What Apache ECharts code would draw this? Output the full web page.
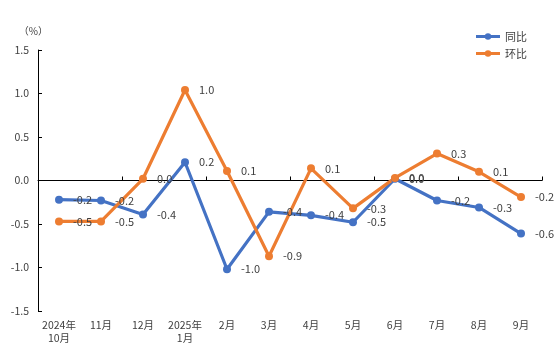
<!DOCTYPE html>
<html><head><meta charset="utf-8">
<script src="https://cdn.jsdelivr.net/npm/echarts@6/dist/echarts.min.js"></script>
<style>html,body{margin:0;padding:0;background:#fff}#c{width:554px;height:362px}</style>
</head><body><div id="c"></div>
<script>
const categories = ['2024年\n10月','11月','12月','2025年\n1月','2月','3月','4月','5月','6月','7月','8月','9月'];
const yoy = [-0.22, -0.23, -0.39, 0.21, -1.02, -0.36, -0.40, -0.48, 0.02, -0.23, -0.31, -0.61];
const mom = [-0.47, -0.47, 0.02, 1.04, 0.11, -0.87, 0.14, -0.32, 0.03, 0.31, 0.10, -0.19];
const seriesNames = ['同比', '环比'];
const yTicks = {min: -1.5, max: 1.5, interval: 0.5};

const font = '"Noto Sans CJK SC", "Microsoft YaHei", sans-serif';
const chart = echarts.init(document.getElementById('c'), null, {renderer: 'canvas'});
function mk(name, data, color) {
  return {
    name: name, type: 'line', data: data, xAxisIndex: 0,
    symbol: 'circle', symbolSize: 8,
    lineStyle: {color: color, width: 3.2},
    itemStyle: {color: color},
    label: {show: true, position: 'right', distance: 10, color: '#404040', fontSize: 11, fontFamily: font,
      formatter: p => p.value.toFixed(1)},
    animation: false
  };
}
chart.setOption({
  animation: false,
  grid: {left: 38, right: 12, top: 50, bottom: 51},
  legend: {
    data: seriesNames, orient: 'vertical', right: 22, top: 26, itemWidth: 24, itemHeight: 8, itemGap: 6,
    lineStyle: {width: 3},
    textStyle: {fontSize: 11, color: '#404040', fontFamily: font, padding: [0, 0, 0, 0]}
  },
  xAxis: [
    {type: 'category', data: categories, position: 'bottom', boundaryGap: true,
     axisLine: {onZero: true, lineStyle: {color: '#000', width: 1}},
     axisTick: {show: true, inside: true, length: 4, lineStyle: {color: '#000'}},
     axisLabel: {show: false}, splitLine: {show: false}},
    {type: 'category', data: categories, position: 'bottom', boundaryGap: true,
     axisLine: {show: false}, axisTick: {show: false},
     axisLabel: {show: true, interval: 0, margin: 8, color: '#404040', fontSize: 10.5, lineHeight: 13, fontFamily: font},
     splitLine: {show: false}}
  ],
  yAxis: {
    type: 'value', min: yTicks.min, max: yTicks.max, interval: yTicks.interval,
    name: '（%）', nameLocation: 'end', nameGap: 14,
    nameTextStyle: {color: '#404040', fontSize: 10, fontFamily: font, align: 'right', padding: [0, -10, 0, 0]},
    axisLine: {show: true, lineStyle: {color: '#000', width: 1}},
    axisTick: {show: true, inside: true, length: 4, lineStyle: {color: '#000'}},
    axisLabel: {color: '#404040', fontSize: 10.5, margin: 9, fontFamily: font, formatter: v => v.toFixed(1)},
    splitLine: {show: false}
  },
  series: [mk(seriesNames[0], yoy, '#4472C4'), mk(seriesNames[1], mom, '#ED7D31')]
});
</script></body></html>
